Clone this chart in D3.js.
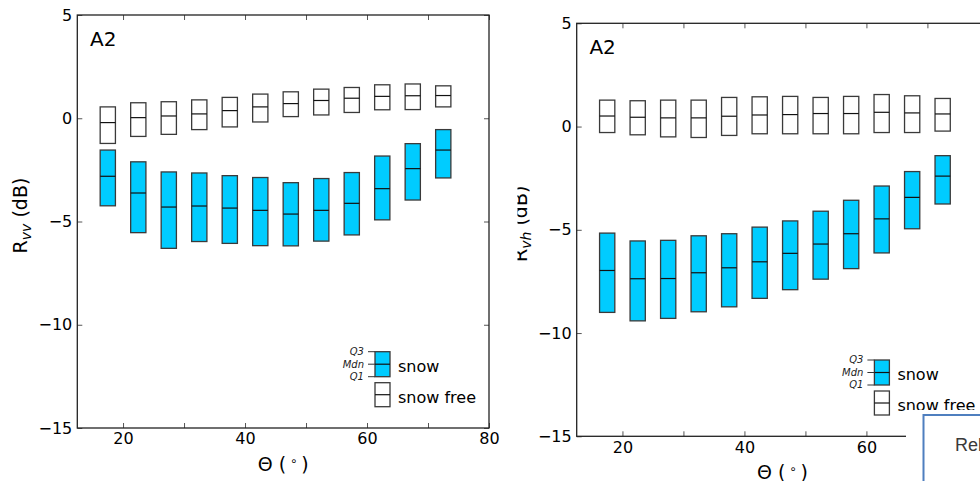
<!DOCTYPE html>
<html>
<head>
<meta charset="utf-8">
<script src="https://cdn.jsdelivr.net/npm/d3@7"></script>
<style>
  html, body { margin: 0; padding: 0; background: #fff; }
  svg { display: block; font-family: "DejaVu Sans", sans-serif; }
</style>
</head>
<body>
<svg id="chart" width="980" height="481"></svg>
<script>
// Incidence-angle bins (degrees)
const theta = [17.5, 22.5, 27.5, 32.5, 37.5, 42.5, 47.5, 52.5, 57.5, 62.5, 67.5, 72.5];

// R_vv (dB): quartiles per angle bin
const vvSnowQ3  = [-1.54, -2.11, -2.60, -2.65, -2.78, -2.87, -3.12, -2.92, -2.63, -1.83, -1.23, -0.55];
const vvSnowMdn = [-2.81, -3.62, -4.30, -4.25, -4.35, -4.46, -4.64, -4.46, -4.12, -3.41, -2.44, -1.54];
const vvSnowQ1  = [-4.24, -5.54, -6.30, -5.97, -6.06, -6.17, -6.18, -5.95, -5.65, -4.92, -3.96, -2.89];
const vvFreeQ3  = [0.55, 0.75, 0.80, 0.89, 1.01, 1.17, 1.28, 1.41, 1.49, 1.62, 1.66, 1.57];
const vvFreeMdn = [-0.21, 0.03, 0.11, 0.21, 0.37, 0.55, 0.71, 0.86, 0.97, 1.06, 1.09, 1.10];
const vvFreeQ1  = [-1.22, -0.88, -0.78, -0.55, -0.42, -0.18, 0.08, 0.16, 0.28, 0.41, 0.42, 0.55];

// R_vh (dB): quartiles per angle bin
const vhSnowQ3  = [-5.16, -5.54, -5.51, -5.29, -5.19, -4.87, -4.57, -4.10, -3.57, -2.88, -2.18, -1.41];
const vhSnowMdn = [-6.97, -7.37, -7.36, -7.08, -6.84, -6.55, -6.14, -5.69, -5.19, -4.47, -3.43, -2.40];
const vhSnowQ1  = [-9.00, -9.41, -9.29, -8.97, -8.73, -8.32, -7.90, -7.39, -6.88, -6.12, -4.95, -3.75];
const vhFreeQ3  = [1.28, 1.25, 1.28, 1.28, 1.41, 1.44, 1.46, 1.41, 1.46, 1.55, 1.49, 1.36];
const vhFreeMdn = [0.51, 0.45, 0.42, 0.42, 0.50, 0.56, 0.58, 0.63, 0.63, 0.69, 0.66, 0.61];
const vhFreeQ1  = [-0.29, -0.40, -0.50, -0.53, -0.43, -0.35, -0.35, -0.35, -0.35, -0.29, -0.29, -0.22];

// Axis ticks
const xTicks = [20, 30, 40, 50, 60, 70, 80];
const xLabels = [20, 40, 60, 80];
const yTicks = [-15, -10, -5, 0, 5];
const panelTag = "A2";
const boxWidth = 2.5;

const SNOW = "#00CCFF";
const svg = d3.select("#chart");

const W = 411.7, H = 413;

function drawPanel(ox, oy, snow, free, sub, labelClipX) {
  const g = svg.append("g").attr("transform", `translate(${ox},${oy})`);
  const x = d3.scaleLinear().domain([12.5, 80]).range([0, W]);
  const y = d3.scaleLinear().domain([-15, 5]).range([H, 0]);

  const fmtX = d => xLabels.includes(d) ? d : "";
  const styleAxis = a => {
    a.select(".domain").remove();
    a.selectAll(".tick line").attr("stroke", "#555").attr("stroke-width", 1);
    a.selectAll(".tick text").attr("fill", "#000").style("font-size", "16px")
      .style("font-family", "DejaVu Sans, sans-serif");
  };

  g.append("g").attr("transform", `translate(0,${H})`)
    .call(d3.axisBottom(x).tickValues(xTicks).tickSize(-5).tickPadding(5).tickFormat(fmtX))
    .call(styleAxis);
  g.append("g")
    .call(d3.axisTop(x).tickValues(xTicks).tickSize(-5).tickFormat(""))
    .call(styleAxis);
  g.append("g")
    .call(d3.axisLeft(y).tickValues(yTicks).tickSize(-5).tickPadding(5))
    .call(styleAxis);
  g.append("g").attr("transform", `translate(${W},0)`)
    .call(d3.axisRight(y).tickValues(yTicks).tickSize(-5).tickFormat(""))
    .call(styleAxis);

  // quartile boxes with median bars
  const drawBoxes = (set, fill) => {
    const bx = g.append("g");
    theta.forEach((t, i) => {
      const x0 = x(t - boxWidth / 2), x1 = x(t + boxWidth / 2);
      bx.append("rect")
        .attr("x", x0).attr("y", y(set.q3[i]))
        .attr("width", x1 - x0).attr("height", y(set.q1[i]) - y(set.q3[i]))
        .attr("fill", fill).attr("stroke", "#3a3a3a").attr("stroke-width", 1.3);
      bx.append("line")
        .attr("x1", x0).attr("x2", x1)
        .attr("y1", y(set.mdn[i])).attr("y2", y(set.mdn[i]))
        .attr("stroke", "#111").attr("stroke-width", 1.2);
    });
  };
  drawBoxes(free, "none");
  drawBoxes(snow, SNOW);

  // frame
  g.append("rect").attr("width", W).attr("height", H)
    .attr("fill", "none").attr("stroke", "#222").attr("stroke-width", 1.3);

  // panel tag
  g.append("text").attr("x", 12.7).attr("y", 30.5)
    .style("font-size", "20px").text(panelTag);

  // legend
  const lx = W - 114, ly = 336.7;
  const lg = g.append("g");
  lg.append("rect").attr("x", lx).attr("y", ly).attr("width", 15).attr("height", 25)
    .attr("fill", SNOW).attr("stroke", "#3a3a3a").attr("stroke-width", 1.3);
  lg.append("line").attr("x1", lx).attr("x2", lx + 15).attr("y1", ly + 12.5).attr("y2", ly + 12.5)
    .attr("stroke", "#111").attr("stroke-width", 1.2);
  [["Q3", 0], ["Mdn", 12.5], ["Q1", 25]].forEach(([t, dy]) => {
    lg.append("line").attr("x1", lx - 7).attr("x2", lx).attr("y1", ly + dy).attr("y2", ly + dy)
      .attr("stroke", "#333").attr("stroke-width", 1);
    lg.append("text").attr("x", lx - 11).attr("y", ly + dy).attr("dy", "0.35em")
      .attr("text-anchor", "end").style("font-size", "10px").style("font-style", "italic")
      .attr("fill", "#222").text(t);
  });
  lg.append("text").attr("x", lx + 23).attr("y", ly + 12.5 + 8)
    .style("font-size", "16px").text("snow");
  const fy = ly + 31;
  lg.append("rect").attr("x", lx).attr("y", fy).attr("width", 15).attr("height", 24)
    .attr("fill", "none").attr("stroke", "#3a3a3a").attr("stroke-width", 1.3);
  lg.append("line").attr("x1", lx).attr("x2", lx + 15).attr("y1", fy + 12).attr("y2", fy + 12)
    .attr("stroke", "#111").attr("stroke-width", 1.2);
  lg.append("text").attr("x", lx + 23).attr("y", fy + 12 + 8.5)
    .style("font-size", "16px").text("snow free");

  // x axis title
  const xt = g.append("text").attr("x", W / 2).attr("y", H + 43)
    .attr("text-anchor", "middle").style("font-size", "19px");
  xt.append("tspan").text("Θ (");
  xt.append("tspan").attr("dy", -6).style("font-size", "12px").text(" ∘ ");
  xt.append("tspan").attr("dy", 6).text(")");

  // y axis title (optionally trimmed on its left side)
  const holder = g.append("g");
  if (labelClipX !== null) {
    const id = "ylclip" + Math.round(ox);
    svg.append("clipPath").attr("id", id).append("rect")
      .attr("x", labelClipX - ox).attr("y", -50).attr("width", 200).attr("height", 600);
    holder.attr("clip-path", `url(#${id})`);
  }
  const yl = holder.append("text")
    .attr("transform", `translate(-50,${H / 2 - 6}) rotate(-90)`)
    .attr("text-anchor", "middle").style("font-size", "19px");
  yl.append("tspan").text("R");
  yl.append("tspan").attr("dy", 4).style("font-size", "14px").style("font-style", "italic").text(sub);
  yl.append("tspan").attr("dy", -4).text(" (dB)");
}

drawPanel(77.3, 15,
  { q3: vvSnowQ3, mdn: vvSnowMdn, q1: vvSnowQ1 },
  { q3: vvFreeQ3, mdn: vvFreeMdn, q1: vvFreeQ1 }, "vv", null);

// second panel, its left margin trimmed by the figure edge
svg.append("rect").attr("x", 500).attr("y", 0).attr("width", 480).attr("height", 481).attr("fill", "#fff");
drawPanel(576.7, 23.3,
  { q3: vhSnowQ3, mdn: vhSnowMdn, q1: vhSnowQ1 },
  { q3: vhFreeQ3, mdn: vhFreeMdn, q1: vhFreeQ1 }, "vh", 517.5);

// overlapping text box in the lower-right corner
svg.append("rect").attr("x", 906).attr("y", 410).attr("width", 80).attr("height", 80).attr("fill", "#fff");
svg.append("rect").attr("x", 923.5).attr("y", 415).attr("width", 80).attr("height", 80)
  .attr("fill", "#fff").attr("stroke", "#4f7fbf").attr("stroke-width", 2);
svg.append("text").attr("x", 955).attr("y", 451)
  .style("font-family", "Liberation Sans, sans-serif").style("font-size", "18px")
  .attr("fill", "#3a3a3a").text("Rel");
</script>
</body>
</html>
